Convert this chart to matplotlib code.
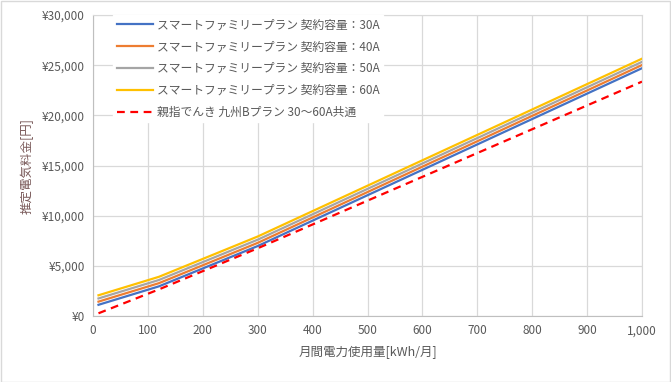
import numpy as np
import matplotlib
matplotlib.use('Agg')
from matplotlib import pyplot as plt
from matplotlib.ticker import FuncFormatter, MultipleLocator
from matplotlib.patches import Rectangle

plt.rcParams['font.family'] = ['Noto Sans CJK JP', 'DejaVu Sans']

# 月間使用量 [kWh]
usage = [10, 120, 300, 1000]
# 推定料金 [円]
smart_30a = [1116, 2955, 6973, 24697]
smart_40a = [1432, 3271, 7289, 25013]
smart_50a = [1749, 3587, 7605, 25329]
smart_60a = [2065, 3904, 7922, 25646]
oyayubi_b = [270, 2650, 6750, 23360]

labels = ['スマートファミリープラン 契約容量：30A',
          'スマートファミリープラン 契約容量：40A',
          'スマートファミリープラン 契約容量：50A',
          'スマートファミリープラン 契約容量：60A',
          '親指でんき 九州Bプラン 30〜60A共通']

colors = ['#4472C4', '#ED7D31', '#A5A5A5', '#FFC000']
text_col = '#595959'
grid_col = '#D9D9D9'

fig = plt.figure(figsize=(6.71, 3.82), dpi=100)
ax = fig.add_axes([93 / 671, 1 - 316 / 382, (642 - 93) / 671, (316 - 15) / 382])

for vals, c, lab in zip([smart_30a, smart_40a, smart_50a, smart_60a], colors, labels[:4]):
    ax.plot(usage, vals, color=c, lw=1.6, label=lab)
ax.plot(usage, oyayubi_b, color='#FF0000', lw=1.6, ls=(0, (3.5, 2.5)), label=labels[4])

ax.set_xlim(0, 1000)
ax.set_ylim(0, 30000)
ax.xaxis.set_major_locator(MultipleLocator(100))
ax.yaxis.set_major_locator(MultipleLocator(5000))
ax.xaxis.set_major_formatter(FuncFormatter(lambda v, p: f'{int(v):,}'))
ax.yaxis.set_major_formatter(FuncFormatter(lambda v, p: f'¥{int(v):,}'))
ax.grid(True, color=grid_col, lw=0.9)
ax.set_axisbelow(True)
for s in ax.spines.values():
    s.set_color(grid_col)
ax.spines['left'].set_color('#BFBFBF')
ax.spines['bottom'].set_color('#BFBFBF')
ax.tick_params(length=0, labelsize=8.5, colors=text_col, pad=6)

ax.set_xlabel('月間電力使用量[kWh/月]', fontsize=9, color=text_col, labelpad=6)
ax.set_ylabel('推定電気料金[円]', fontsize=9, color='#7A5A5A', labelpad=6)

leg = ax.legend(loc='upper left', bbox_to_anchor=(0.026, 1.02), fontsize=8.5,
                frameon=True, fancybox=False, handlelength=3.05, handletextpad=0.35,
                labelspacing=0.75, borderpad=0.3, labelcolor=text_col)
leg.get_frame().set_facecolor('white')
leg.get_frame().set_edgecolor('white')
leg.get_frame().set_alpha(1)

fig.patches.append(Rectangle((0.5 / 671, 0.5 / 382), 1 - 1.5 / 671, 1 - 1.5 / 382,
                             transform=fig.transFigure, fill=False,
                             edgecolor=grid_col, lw=1))

fig.savefig('out.png', dpi=100)
